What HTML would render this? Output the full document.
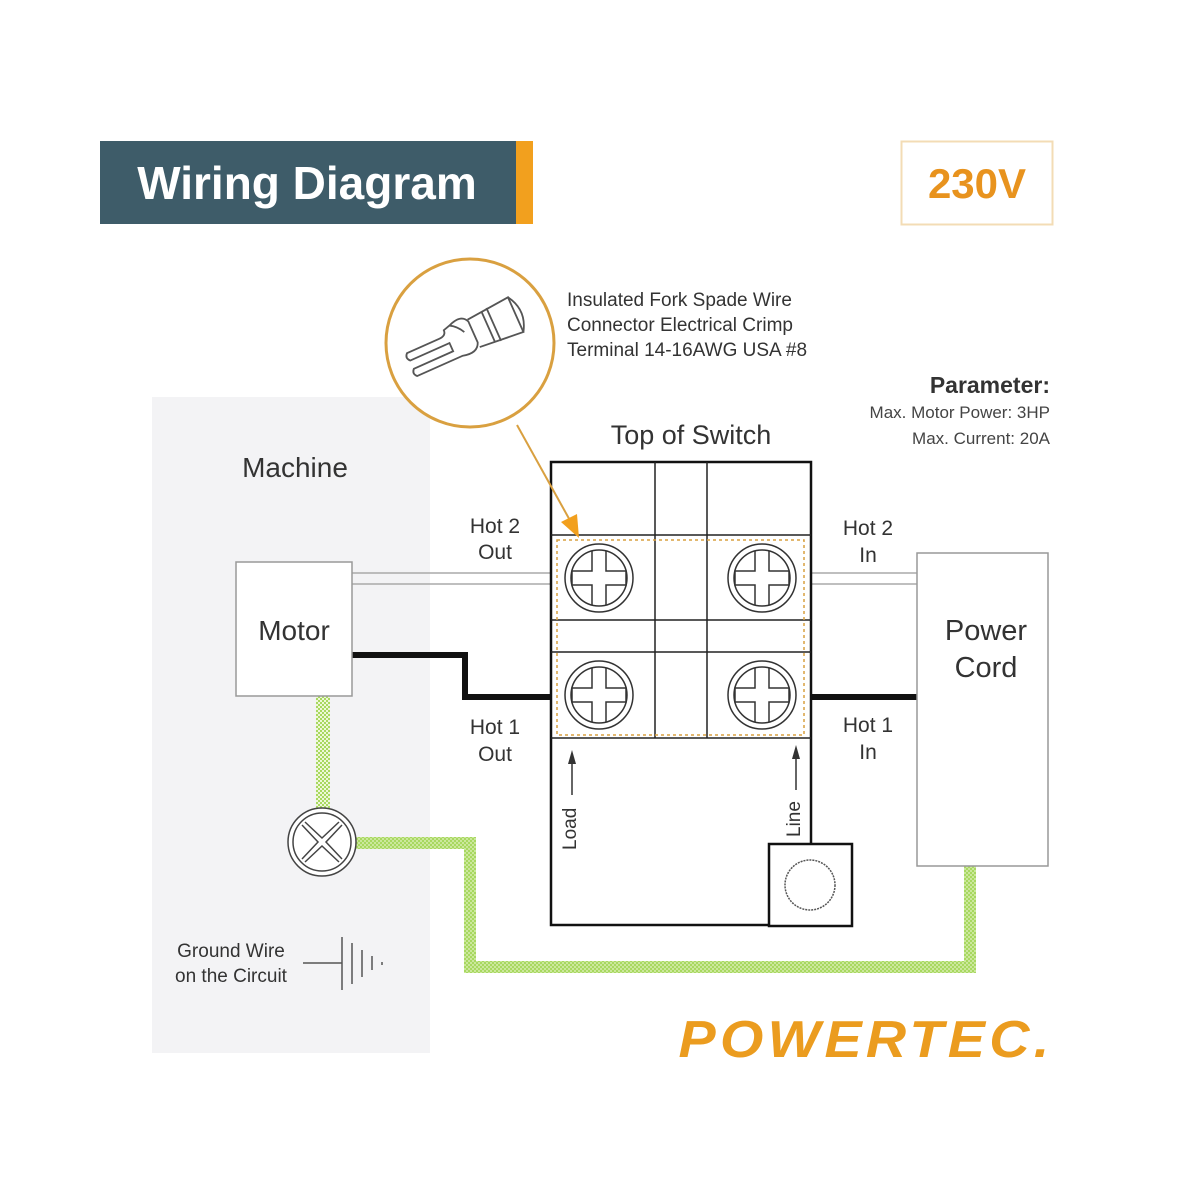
<!DOCTYPE html>
<html><head><meta charset="utf-8"><style>
html,body{margin:0;padding:0;background:#fff;}
svg{display:block;}
text{font-family:"Liberation Sans","DejaVu Sans",sans-serif;}
</style></head><body>
<svg width="1200" height="1200" viewBox="0 0 1200 1200" xmlns="http://www.w3.org/2000/svg">
<defs>
<pattern id="gp" width="4" height="4" patternUnits="userSpaceOnUse">
<rect width="4" height="4" fill="#a8d860"/><rect x="0" y="0" width="2" height="2" fill="#eef8d8"/><rect x="2" y="2" width="2" height="2" fill="#eef8d8"/>
</pattern>
</defs>
<rect width="1200" height="1200" fill="#fff"/>
<!-- header -->
<rect x="100" y="141" width="417" height="83" fill="#3e5c69"/>
<rect x="516" y="141" width="17" height="83" fill="#f2a01e"/>
<text x="307" y="199" font-size="46" font-weight="bold" fill="#fff" text-anchor="middle">Wiring Diagram</text>
<rect x="901.5" y="141.5" width="151" height="83" fill="#fff" stroke="#f3dcb5" stroke-width="2"/>
<text x="977" y="198" font-size="42" font-weight="bold" fill="#e8931e" text-anchor="middle">230V</text>
<!-- machine panel -->
<rect x="152" y="397" width="278" height="656" fill="#f3f3f5"/>
<text x="295" y="477" font-size="28" fill="#333" text-anchor="middle">Machine</text>
<!-- fork circle -->
<circle cx="470" cy="343" r="84" fill="#fff" stroke="#d9a040" stroke-width="3"/>
<g fill="none" stroke="#555" stroke-width="1.8" transform="rotate(-24 470 335)">
<path d="M405,326 Q401,330 405,334 L448,334 L448,343 L405,343 Q401,347 405,351 L455,351 Q470,355 474,345 L474,322 Q470,312 455,318 L448,320 Q448,326 440,326 Z"/>
<path d="M474,320 L520,316 L520,354 L474,350"/>
<path d="M490,318 L490,352 M496,317 L496,353"/>
<path d="M520,316 Q532,335 520,354"/>
<path d="M455,318 Q462,322 466,330"/>
</g>
<!-- fork text -->
<text x="567" y="306" font-size="19" fill="#333">Insulated Fork Spade Wire</text>
<text x="567" y="331" font-size="19" fill="#333">Connector Electrical Crimp</text>
<text x="567" y="356" font-size="19" fill="#333">Terminal 14-16AWG USA #8</text>
<text x="1050" y="393" font-size="23" font-weight="bold" fill="#333" text-anchor="end">Parameter:</text>
<text x="1050" y="418" font-size="17" fill="#444" text-anchor="end">Max. Motor Power: 3HP</text>
<text x="1050" y="444" font-size="17" fill="#444" text-anchor="end">Max. Current: 20A</text>
<text x="691" y="444" font-size="27" fill="#333" text-anchor="middle">Top of Switch</text>
<!-- wires -->
<g stroke="#aaa" stroke-width="1.5">
<line x1="352" y1="573" x2="566" y2="573"/><line x1="352" y1="584" x2="566" y2="584"/>
<line x1="797" y1="573" x2="917" y2="573"/><line x1="797" y1="584" x2="917" y2="584"/>
</g>
<polyline points="352,655 465,655 465,697 566,697" fill="none" stroke="#111" stroke-width="6"/>
<line x1="797" y1="697" x2="917" y2="697" stroke="#111" stroke-width="6"/>
<!-- ground -->
<rect x="316" y="696" width="14" height="112" fill="url(#gp)"/>
<polyline points="355,843 470,843 470,967 970,967 970,866" fill="none" stroke="url(#gp)" stroke-width="12"/>
<polyline points="355,843 470,843 470,967 970,967 970,866" fill="none" stroke="#a8d860" stroke-width="12" stroke-opacity="0.5"/>
<circle cx="322" cy="842" r="34" fill="#fff" stroke="#444" stroke-width="1.5"/>
<circle cx="322" cy="842" r="29" fill="#fff" stroke="#444" stroke-width="1.5"/>
<g stroke="#444" stroke-width="1.5" fill="none">
<path d="M305,822 L322,838 L339,822 M305,862 L322,846 L339,862 M302,825 L318,842 L302,859 M342,825 L326,842 L342,859"/>
</g>
<!-- motor -->
<rect x="236" y="562" width="116" height="134" fill="#fff" stroke="#999" stroke-width="1.5"/>
<text x="294" y="640" font-size="28" fill="#333" text-anchor="middle">Motor</text>
<!-- power cord -->
<rect x="917" y="553" width="131" height="313" fill="#fff" stroke="#999" stroke-width="1.5"/>
<text x="986" y="640" font-size="29" fill="#333" text-anchor="middle">Power</text>
<text x="986" y="677" font-size="29" fill="#333" text-anchor="middle">Cord</text>
<!-- switch -->
<rect x="551" y="462" width="260" height="463" fill="#fff" stroke="#111" stroke-width="2.5"/>
<g stroke="#222" stroke-width="1.5">
<line x1="655" y1="462" x2="655" y2="738"/><line x1="707" y1="462" x2="707" y2="738"/>
<line x1="551" y1="535" x2="811" y2="535"/><line x1="551" y1="620" x2="811" y2="620"/>
<line x1="551" y1="652" x2="811" y2="652"/><line x1="551" y1="738" x2="811" y2="738"/>
</g>
<rect x="557" y="540" width="247" height="195" fill="none" stroke="#d9a040" stroke-width="1.5" stroke-dasharray="3,3"/>
<g id="sc">
<circle cx="599" cy="578" r="34" fill="#fff" stroke="#333" stroke-width="1.5"/>
<circle cx="599" cy="578" r="28" fill="#fff" stroke="#333" stroke-width="1.5"/>
<path d="M592,551 V571 H572 V585 H592 V605 M606,551 V571 H626 V585 H606 V605" fill="none" stroke="#333" stroke-width="1.5"/>
</g>
<use href="#sc" x="163"/><use href="#sc" y="117"/><use href="#sc" x="163" y="117"/>
<!-- arrow from fork -->
<line x1="517" y1="425" x2="572" y2="524" stroke="#d9a040" stroke-width="2"/>
<polygon points="579,538 561,522 577,514" fill="#f2a01e"/>
<!-- load/line -->
<text transform="translate(576,850) rotate(-90)" font-size="19" fill="#333">Load</text>
<line x1="572" y1="795" x2="572" y2="760" stroke="#333" stroke-width="1.5"/>
<polygon points="572,750 568,764 576,764" fill="#333"/>
<text transform="translate(800,837) rotate(-90)" font-size="19" fill="#333">Line</text>
<line x1="796" y1="790" x2="796" y2="755" stroke="#333" stroke-width="1.5"/>
<polygon points="796,745 792,759 800,759" fill="#333"/>
<rect x="769" y="844" width="83" height="82" fill="#fff" stroke="#111" stroke-width="2.5"/>
<circle cx="810" cy="885" r="25" fill="#fff" stroke="#555" stroke-width="1.5" stroke-dasharray="2,1"/>
<!-- labels -->
<g font-size="21" fill="#333" text-anchor="middle">
<text x="495" y="533">Hot 2</text><text x="495" y="559">Out</text>
<text x="868" y="535">Hot 2</text><text x="868" y="562">In</text>
<text x="495" y="734">Hot 1</text><text x="495" y="761">Out</text>
<text x="868" y="732">Hot 1</text><text x="868" y="759">In</text>
</g>
<!-- ground symbol -->
<text x="231" y="957" font-size="19" fill="#333" text-anchor="middle">Ground Wire</text>
<text x="231" y="982" font-size="19" fill="#333" text-anchor="middle">on the Circuit</text>
<g stroke="#555" stroke-width="1.5">
<line x1="303" y1="963" x2="342" y2="963"/>
<line x1="342" y1="937" x2="342" y2="990"/><line x1="352" y1="943" x2="352" y2="984"/>
<line x1="362" y1="950" x2="362" y2="977"/><line x1="372" y1="956" x2="372" y2="970"/>
<line x1="382" y1="962" x2="382" y2="965"/>
</g>
<!-- logo -->
<text x="866" y="1057" font-size="52" font-weight="bold" font-style="italic" fill="#eb9c1f" text-anchor="middle" letter-spacing="4" textLength="375" lengthAdjust="spacingAndGlyphs">POWERTEC.</text>
</svg>
</body></html>
